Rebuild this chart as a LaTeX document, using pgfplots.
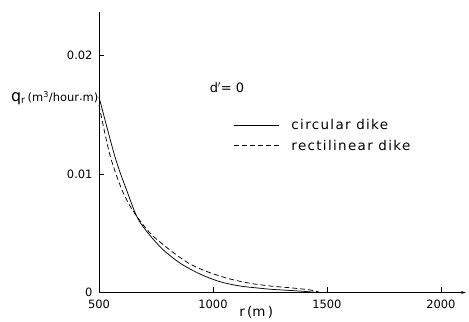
\documentclass[border=0pt]{standalone}
\usepackage{pgfplots}
\pgfplotsset{compat=1.18}
\usepackage{fontspec}
\setmainfont{DejaVu Sans}
\usetikzlibrary{arrows.meta}
\begin{document}
\begin{tikzpicture}
\path[use as bounding box] (-99bp,-29.5bp) rectangle (370bp,292.5bp);
\begin{axis}[
  scale only axis,
  width=367bp, height=280.5bp,
  xmin=500, xmax=2110, ymin=0, ymax=0.02367,
  axis lines=left,
  x axis line style={-{Stealth[length=5bp,width=3bp]}, line width=0.9pt},
  y axis line style={-, line width=0.9pt},
  xtick={500,1000,1500,2000},
  xticklabels={500,1000,1500,2000},
  ytick={0,0.01,0.02},
  yticklabels={0,0.01,0.02},
  scaled y ticks=false,
  tick align=inside,
  major tick length=5bp,
  tick style={line width=0.6pt, black},
  ticklabel style={font=\fontsize{11.5}{13}\selectfont},
  xticklabel style={yshift=-4bp},
  yticklabel style={xshift=-3bp},
  legend style={draw=none, fill=none, at={(axis cs:1090,0.0148)}, anchor=north west,
    font=\fontsize{13.5}{15}\selectfont\addfontfeature{LetterSpace=10}, row sep=5bp, inner sep=0pt,
    nodes={inner sep=2pt}},
  legend cell align=left,
  legend image code/.code={\draw[#1] (0bp,0bp) -- (45bp,0bp);},
  clip=false,
]
\addplot[black, line width=0.75pt, smooth] coordinates {
(500,0.0165) (570,0.01146) (621,0.00865) (676,0.00605) (768,0.00386)
(855,0.00249) (943,0.00156) (1031,0.00091) (1118,0.00055) (1206,0.00036)
(1263,0.00026) (1382,0.00012) (1460,0.0)
};
\addlegendentry{\hspace{10bp}circular dike}
\addplot[black, line width=0.75pt, dash pattern=on 5bp off 3bp, smooth] coordinates {
(500,0.0158) (548,0.01160) (600,0.00870) (649,0.0069) (724,0.00502)
(811,0.00359) (899,0.00241) (987,0.00167) (1075,0.00114) (1162,0.00078)
(1250,0.00055) (1338,0.0004) (1425,0.00022) (1470,0.0)
};
\addlegendentry{\hspace{10bp}rectilinear dike}
\node[anchor=east, inner sep=0.5bp] at (axis cs:500,0.0164)
  {\fontsize{16}{16}\selectfont q\raisebox{-2bp}{\fontsize{9.5}{9.5}\selectfont r}\,\fontsize{11.5}{12}\selectfont (m\textsuperscript{3}/hour{\raisebox{1.5bp}{.}}m)};
\node[anchor=west, inner sep=0pt, font=\fontsize{13}{14}\selectfont] at (axis cs:985,0.0173) {d$'$= 0};
\node[font=\fontsize{13.5}{14}\selectfont] at (axis cs:1190,-0.0017) {r\,(m\,)};
\end{axis}
\end{tikzpicture}
\end{document}
